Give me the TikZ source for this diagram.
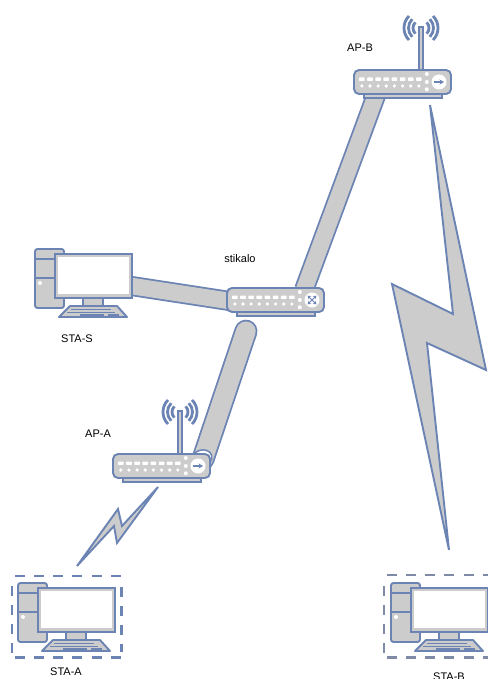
\documentclass[tikz,border=0pt]{standalone}
\usepackage{fontspec}
\setmainfont{Liberation Sans}
\usetikzlibrary{arrows.meta}
\definecolor{lineblue}{HTML}{6C84B4}
\definecolor{boxgrey}{HTML}{7F8AA6}
\definecolor{bandgrey}{HTML}{CCCCCC}
\tikzset{
  dev/.style={draw=lineblue, line width=1.9pt, fill=bandgrey},
  wave/.style={draw=lineblue, line width=2.8pt},
  netbox/.pic={
    \draw[dev] (10,24) rectangle (88,28);
    \draw[dev, rounded corners=5pt] (0,0) rectangle (97,24);
    \foreach \i in {0,...,7} {
      \fill[white, rounded corners=.6pt] (5+8.15*\i,7.5) rectangle ++(5.6,3.4);
      \fill[white] (7.8+8.15*\i,16) circle (1.8);
    }
    \foreach \y in {4,12,19.3} \fill[white] (72.8,\y) circle (2);
  },
  wifibox/.pic={
    \draw[draw=lineblue, fill=bandgrey, line width=1.3pt] (65,-43) rectangle (69,1);
    \foreach \r in {8,12.5,17} {
      \draw[wave] (67,-42)+(135:\r) arc (135:225:\r);
      \draw[wave] (67,-42)+(-45:\r) arc (-45:45:\r);
    }
    \pic {netbox};
    \fill[white] (85,12) circle (7.5);
    \draw[lineblue, line width=1.4pt, -{Stealth[length=4.5pt,width=5pt]}] (80,12) -- (90,12);
  },
  hubbox/.pic={
    \pic {netbox};
    \fill[white] (85,12) circle (7.5);
    \draw[lineblue, line width=1pt, {Stealth[length=3.5pt,width=3.5pt]}-{Stealth[length=3.5pt,width=3.5pt]}] (80.5,7.5) -- (89.5,16.5);
    \draw[lineblue, line width=1pt, {Stealth[length=3.5pt,width=3.5pt]}-{Stealth[length=3.5pt,width=3.5pt]}] (80.5,16.5) -- (89.5,7.5);
  },
  pcbox/.pic={
    \draw[dev, rounded corners=2.5pt] (0,0) rectangle (29,59);
    \draw[lineblue, line width=1.9pt] (0,10) -- (29,10) (0,29) -- (29,29);
    \fill[white] (5,34) circle (2);
    \draw[dev] (48,49) rectangle (68,57);
    \draw[dev, line join=round] (35,57) -- (82,57) -- (92,68) -- (24,68) -- cycle;
    \draw[lineblue, line width=1.4pt] (36,60.5) -- (76,60.5) (32,63.5) -- (80,63.5) (45,66) -- (69,66) (73,66) -- (84,66);
    \draw[dev] (20,5) rectangle (97,49);
    \fill[white] (22.5,7.5) rectangle (93.5,45);
  },
  band/.style={draw=lineblue, double=bandgrey, line width=1.8pt, double distance=16.5pt},
  roundband/.style={band, line cap=round, double distance=19.5pt},
  bolt/.style={draw=lineblue, fill=bandgrey, line width=1.9pt, line join=miter},
  dashbox/.style={rectangle, inner sep=0pt},
  side/.style={line width=2.6pt, dash pattern=on 10pt off 9.2pt},
  lbl/.style={font=\fontsize{11}{13}\selectfont, text=black, inner sep=0pt},
  spot/.style={inner sep=0pt, minimum size=0pt},
}
\begin{document}
\begin{tikzpicture}[x=1pt, y=-1pt]
\useasboundingbox (0,0) rectangle (487,679);
\node[spot] (apbfoot) at (378,90) {};
\node[spot] (hubtop) at (304,290) {};
\node[spot] (stasside) at (125,285) {};
\node[spot] (hubleft) at (236,302) {};
\node[spot] (hubfoot) at (246,331) {};
\node[spot] (apatop) at (203,459) {};

\draw[band] (apbfoot) -- (hubtop);
\draw[band] (stasside) -- (hubleft);
\draw[roundband] (hubfoot) -- (apatop);
\draw[draw=lineblue, line width=1.5pt, fill=white, rotate around={15:(202,458)}] (202,458) ellipse (10 and 8);

\pic at (35,249) {pcbox};
\pic at (18,583) {pcbox};
\pic at (391,583) {pcbox};
\pic at (354,70) {wifibox};
\pic at (113,454) {wifibox};
\pic at (227,288) {hubbox};

\node[dashbox, minimum width=109pt, minimum height=81pt] (boxa) at (66.5,616.5) {};
\node[dashbox, minimum width=118pt, minimum height=82pt] (boxb) at (443,616) {};
% each side starts on its own, corners stay open
\foreach \bx/\col in {boxa/lineblue, boxb/boxgrey} {
  \draw[side, \col, shorten <=3pt] (\bx.north west) -- (\bx.north east);
  \draw[side, \col, shorten <=3pt] (\bx.south west) -- (\bx.south east);
  \draw[side, \col, shorten <=4pt, shorten >=3pt] (\bx.south west) -- (\bx.north west);
  \draw[side, \col, shorten <=11pt, shorten >=5pt] (\bx.north east) -- (\bx.south east);
}

\draw[bolt] (158,487) -- (117,543) -- (114,526) -- (77,566) -- (118,509) -- (122,526) -- cycle;
\draw[bolt] (430,105) -- (486,370) -- (427,343) -- (449,550) -- (392,284) -- (453,314) -- cycle;

\node[lbl] (lblapb) at (360,48) {AP-B};
\node[lbl] (lblhub) at (240,259) {stikalo};
\node[lbl] (lblstas) at (77,339) {STA-S};
\node[lbl] (lblapa) at (98,434) {AP-A};
\node[lbl] (lblstaa) at (66,672) {STA-A};
\node[lbl] (lblstab) at (449,677) {STA-B};
\end{tikzpicture}
\end{document}
